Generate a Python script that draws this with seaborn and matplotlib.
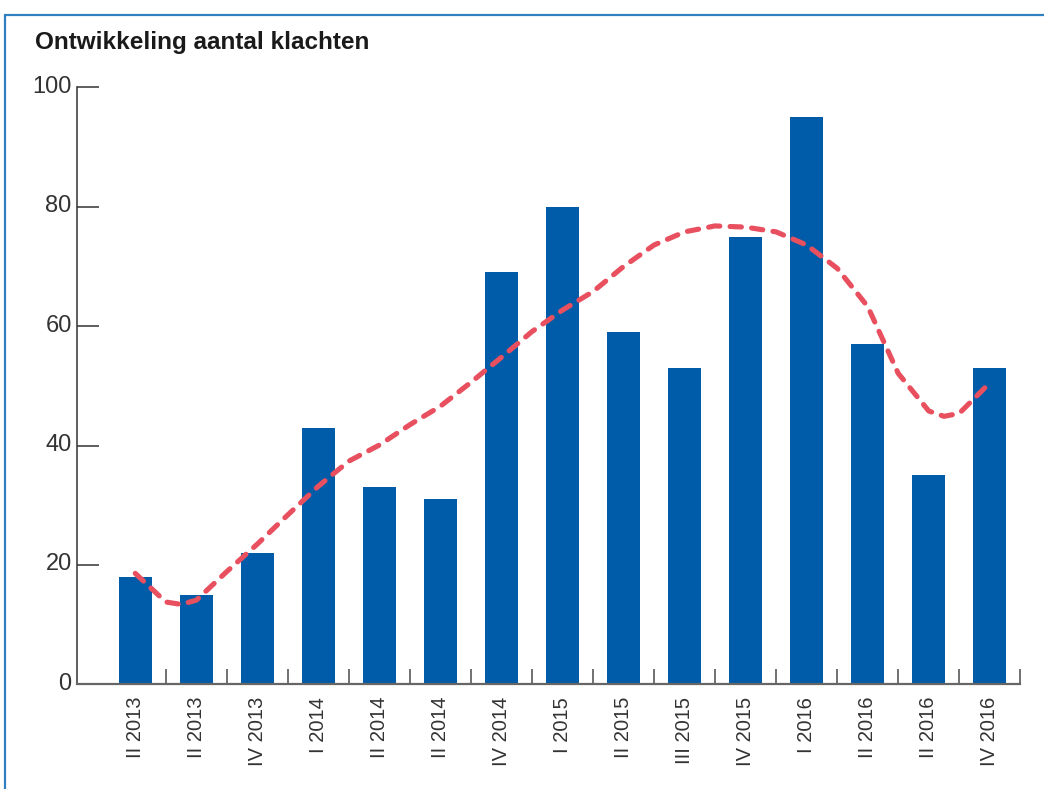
import matplotlib
matplotlib.use("Agg")
import matplotlib.pyplot as plt
import matplotlib.transforms as mtransforms
from matplotlib.lines import Line2D
import seaborn as sns
import pandas as pd

# ---- data ----
labels = ["II 2013", "II 2013", "IV 2013", "I 2014", "II 2014", "II 2014", "IV 2014",
          "I 2015", "II 2015", "III 2015", "IV 2015", "I 2016", "II 2016", "II 2016", "IV 2016"]
klachten = [18, 15, 22, 43, 33, 31, 69, 80, 59, 53, 75, 95, 57, 35, 53]

trend_pos = [0, 0.5, 0.75, 1, 1.5, 2, 2.5, 3, 3.5, 4, 4.5, 5, 5.5, 6, 6.5, 7, 7.5, 8,
             8.5, 9, 9.5, 10, 10.5, 11, 11.5, 12, 12.5, 13, 13.25, 13.5, 14]
trend_val = [18.6, 13.8, 13.4, 14.1, 18.9, 23.5, 28.4, 33.2, 37.4, 40.1, 43.5, 46.6,
             50.6, 54.8, 59.1, 62.7, 65.8, 70.0, 73.6, 75.8, 76.8, 76.6, 75.8, 73.6,
             69.7, 63.3, 52.1, 45.8, 44.9, 45.4, 50.5]
yticks = [0, 20, 40, 60, 80, 100]

df = pd.DataFrame({"pos": list(range(len(klachten))), "klachten": klachten})
trend = pd.DataFrame({"pos": trend_pos, "trend": trend_val})

sns.set_theme(style="white")
plt.rcParams["font.family"] = ["Liberation Sans", "DejaVu Sans"]

fig = plt.figure(figsize=(10.44, 7.89), dpi=100)
ax = fig.add_axes([0.074, 0.1326, 0.9033, 0.7566])

sns.barplot(data=df, x="pos", y="klachten", color="#005ca8", saturation=1,
            width=0.535, ax=ax, zorder=2, linewidth=0)
sns.lineplot(data=trend, x="pos", y="trend", color="#e8505f", linewidth=3.7,
             ax=ax, zorder=3, estimator=None, sort=False)
ln = ax.lines[-1]
ln.set_linestyle((0, (2.2, 2.0)))
ln.set_dash_capstyle("round")

ax.set_xlim(-0.95, 14.5)
ax.set_ylim(0, 100)
ax.set_xlabel("")
ax.set_ylabel("")

# x axis
ax.set_xticks(range(len(labels)))
ax.set_xticklabels(labels, rotation=90, fontsize=14.5, color="#333333")
ax.set_xticks([i + 0.5 for i in range(len(labels))], minor=True)
ax.tick_params(axis="x", which="major", length=0, pad=9)
ax.tick_params(axis="x", which="minor", direction="in", length=11, width=1.3,
               color="#666666", bottom=True)

# y axis
ax.set_yticks(yticks)
ax.set_yticklabels([str(v) for v in yticks], fontsize=17, color="#333333")
ax.tick_params(axis="y", which="major", direction="in", length=16, width=1.1,
               color="#333333", pad=4, left=True)
offset = mtransforms.ScaledTranslation(0, 3 / 100, fig.dpi_scale_trans)
for t in ax.get_yticklabels():
    t.set_transform(t.get_transform() + offset)

for s in ["top", "right"]:
    ax.spines[s].set_visible(False)
ax.spines["left"].set_color("#333333")
ax.spines["left"].set_linewidth(1.1)
ax.spines["bottom"].set_color("#666666")
ax.spines["bottom"].set_linewidth(1.6)

# title
fig.text(35 / 1044, 1 - 42 / 789, "Ontwikkeling aantal klachten",
         fontsize=17.5, fontweight="bold", color="#1a1a1a", va="center", ha="left",
         family=["Liberation Sans", "DejaVu Sans"])

# blue frame
fig.add_artist(Line2D([4.5 / 1044, 1.0], [1 - 15 / 789, 1 - 15 / 789],
                      color="#2f7fc1", linewidth=1.6, transform=fig.transFigure))
fig.add_artist(Line2D([4.5 / 1044, 4.5 / 1044], [1 - 15 / 789, 0.0],
                      color="#2f7fc1", linewidth=1.6, transform=fig.transFigure))

fig.savefig("out.png", dpi=100)
